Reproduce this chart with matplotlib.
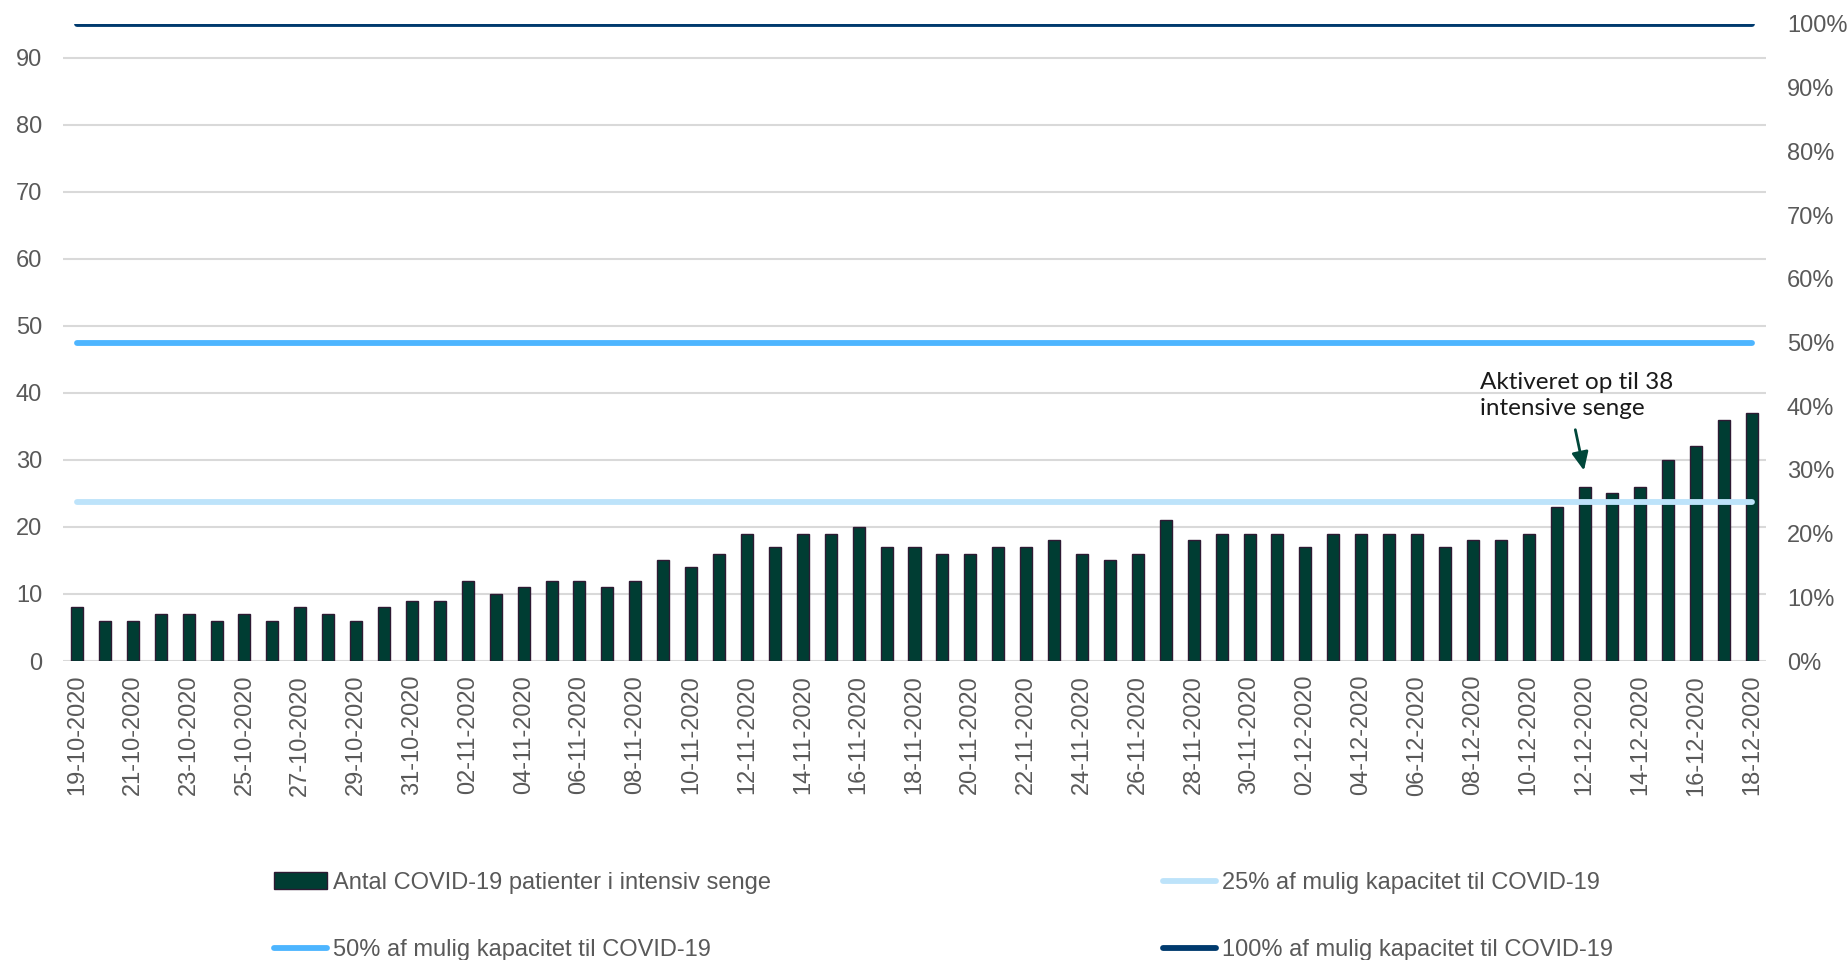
import matplotlib.pyplot as plt
from matplotlib.ticker import PercentFormatter
import pandas as pd

plt.rcParams['font.family'] = ['Liberation Sans', 'DejaVu Sans']

# one bar per day
dates = pd.date_range('2020-10-19', '2020-12-18', freq='D')
date_labels = [d.strftime('%d-%m-%Y') for d in dates]

icu_patients = [
    8, 6, 6, 7, 7, 6, 7, 6, 8, 7, 6, 8, 9,                      # 19-31 okt
    9, 12, 10, 11, 12, 12, 11, 12, 15, 14, 16, 19, 17, 19, 19,  # 1-15 nov
    20, 17, 17, 16, 16, 17, 17, 18, 16, 15, 16, 21, 18, 19, 19,  # 16-30 nov
    19, 17, 19, 19, 19, 19, 17, 18, 18, 19, 23, 26, 25, 26, 30,  # 1-15 dec
    32, 36, 37,                                                  # 16-18 dec
]
bar_label = 'Antal COVID-19 patienter i intensiv senge'

capacity_levels = [0.25, 0.50, 1.00]
capacity_labels = [
    '25% af mulig kapacitet til COVID-19',
    '50% af mulig kapacitet til COVID-19',
    '100% af mulig kapacitet til COVID-19',
]
capacity_colors = ['#BDE3FA', '#4DB5FF', '#003A6E']

left_ticks = list(range(0, 100, 10))
right_ticks = [i / 10 for i in range(11)]

note_text = 'Aktiveret op til 38\nintensive senge'
note_day = '12-12-2020'

GREY = '#595959'
FS = 17

fig = plt.figure(figsize=(18.49, 9.6), dpi=100)
ax = fig.add_axes([63 / 1849, 1 - 661 / 960, (1766 - 63) / 1849, (661 - 24) / 960])
x = list(range(len(date_labels)))

ax.bar(x, icu_patients, width=0.43, color='#003D33', edgecolor='#2E1A33',
       linewidth=1.0, zorder=2, label=bar_label)
ax.set_xlim(-0.5, len(x) - 0.5)
ax.set_ylim(0, 95)
ax.set_yticks(left_ticks)
ax.grid(axis='y', color='#D9D9D9', linewidth=1.5, zorder=0)
ax.set_axisbelow(True)
ax.set_xticks(x[::2])
ax.set_xticklabels(date_labels[::2], rotation=90)
ax.tick_params(axis='x', length=0, pad=10, labelsize=FS, labelcolor=GREY)
ax.tick_params(axis='y', length=0, pad=15, labelsize=FS, labelcolor=GREY)
for s in ax.spines.values():
    s.set_visible(False)

# capacity lines on the percent axis
ax2 = ax.twinx()
ax2.set_ylim(0, 1)
ax2.set_yticks(right_ticks)
ax2.yaxis.set_major_formatter(PercentFormatter(1.0, decimals=0))
ax2.tick_params(axis='y', length=0, pad=15, labelsize=FS, labelcolor=GREY)
for s in ax2.spines.values():
    s.set_visible(False)

lines = []
for lvl, lab, col in zip(capacity_levels, capacity_labels, capacity_colors):
    ln, = ax2.plot([x[0], x[-1]], [lvl, lvl], color=col, linewidth=4.2,
                   solid_capstyle='round', label=lab)
    lines.append(ln)

# annotation
i_note = date_labels.index(note_day)
ax.annotate('', xy=(i_note, 28.0), xytext=(i_note - 0.35, 34.9),
            arrowprops=dict(arrowstyle='-|>,head_length=1.1,head_width=0.5',
                            color='#00473A', lw=2))
ax.text(i_note - 3.75, 39.6, note_text, ha='left', va='center',
        fontsize=17.5, color='#1A1A1A', family=['Lato', 'DejaVu Sans'],
        linespacing=1.32)

bars_handle = ax.containers[0]
handles = [bars_handle, lines[1], lines[0], lines[2]]
labels = [bar_label, capacity_labels[1], capacity_labels[0], capacity_labels[2]]
fig.legend(handles, labels, loc='upper left', bbox_to_anchor=(274 / 1849, 1 - 872 / 960),
           ncol=2, frameon=False, fontsize=FS, labelcolor=GREY, borderpad=0,
           handlelength=2.25, handletextpad=0.25, columnspacing=16.6,
           labelspacing=1.9, borderaxespad=0)

fig.savefig('out.png', dpi=100)
